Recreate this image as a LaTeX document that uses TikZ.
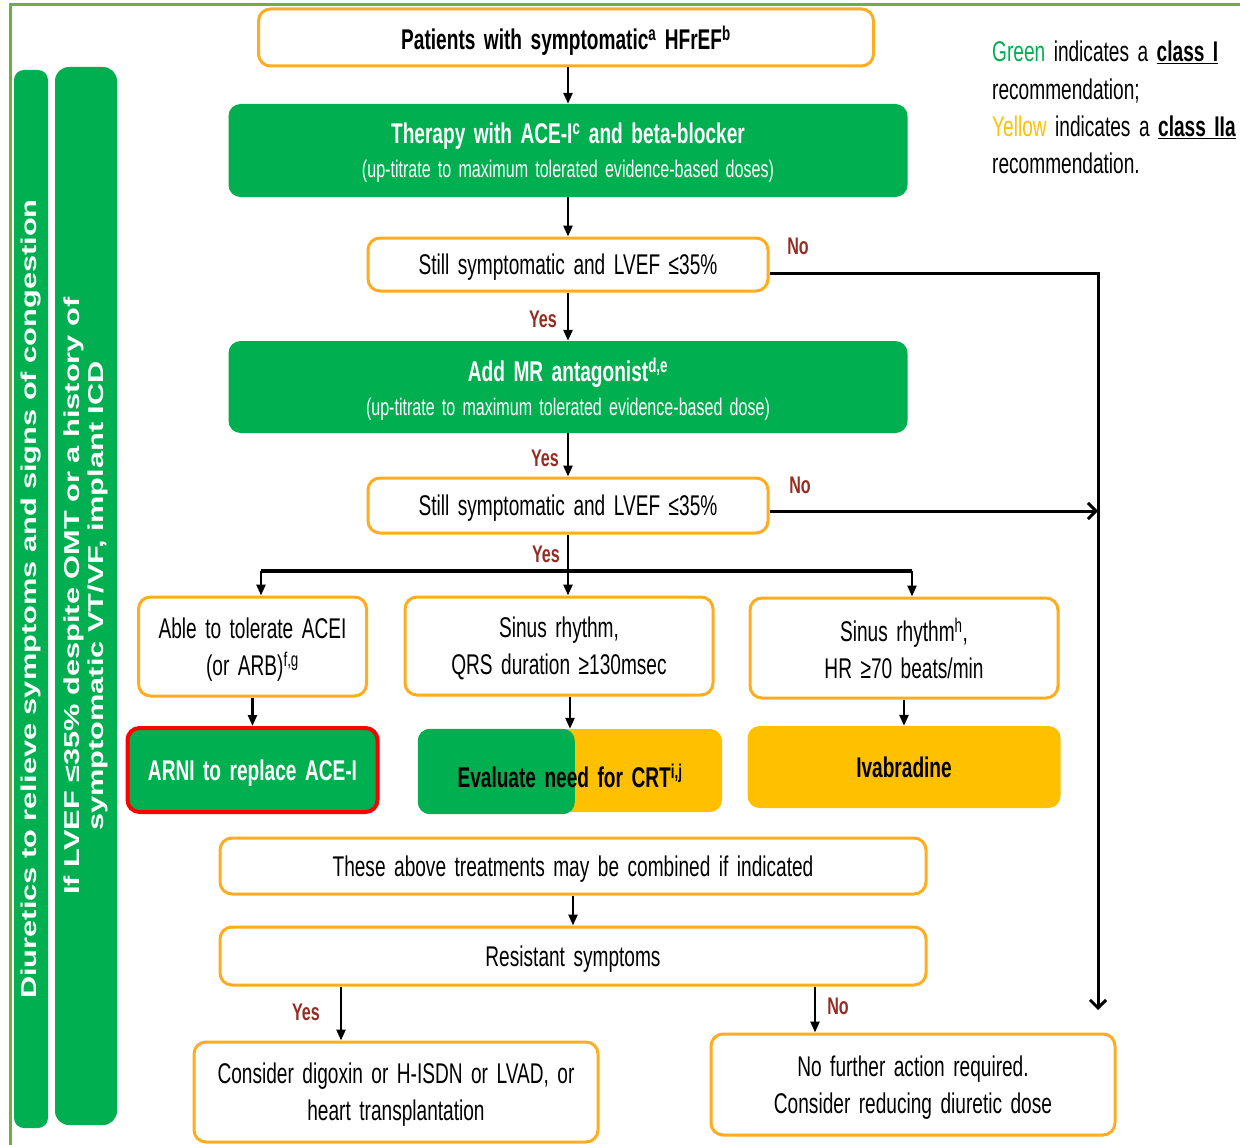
\documentclass[tikz,border=0pt]{standalone}
\usepackage{fontspec}
\setmainfont{Liberation Sans}[FakeStretch=0.67, WordSpace=1.6]
\newfontfamily\barfont{Liberation Sans}[FakeStretch=1.43]
\usetikzlibrary{arrows.meta,calc}
\definecolor{grn}{RGB}{0,176,80}
\definecolor{yel}{RGB}{255,192,0}
\definecolor{org}{RGB}{255,172,30}
\definecolor{frm}{RGB}{112,173,71}
\definecolor{lblc}{RGB}{150,45,35}
\definecolor{redb}{RGB}{255,0,0}
\begin{document}
\begin{tikzpicture}[x=1pt,y=-1pt,
  obox/.style={draw=org, line width=3pt, rounded corners=12pt, fill=white, align=center, inner sep=0pt, text depth=0pt, font=\fontsize{28.5}{37}\selectfont},
  gbox/.style={fill=grn, rounded corners=12pt, text=white, align=center, inner sep=0pt, text depth=0pt},
  ybox/.style={fill=yel, rounded corners=12pt, text=black, align=center, inner sep=0pt, font=\bfseries\fontsize{28.5}{37}\selectfont},
  lbl/.style={text=lblc, font=\bfseries\fontsize{24}{24}\selectfont, inner sep=0pt},
  leg/.style={anchor=base west, inner sep=0pt, font=\fontsize{28.5}{37}\selectfont},
  bar/.style={fill=grn, rotate=90, text=white, align=center, inner sep=0pt, font=\barfont\bfseries\fontsize{21.5}{24.5}\selectfont},
  arr/.style={line width=2.5pt, -{Triangle[length=11pt,width=9pt]}},
  barb/.style={line width=3pt, -{Straight Barb[length=8pt,width=16pt,line width=3pt]}}
]
\useasboundingbox (0,0) rectangle (1240,1145);
% frame
\draw[frm, line width=3pt] (10,1145) -- (10,5) -- (1240,5);
% side bars
\node[bar, minimum width=1058pt, minimum height=34pt, rounded corners=10pt] (bar1) at (31,599) {Diuretics to relieve symptoms and signs of congestion};
\node[bar, minimum width=1058pt, minimum height=62pt, rounded corners=14pt] (bar2) at (86,596) {If LVEF ≤35\% despite OMT or a history of\\symptomatic VT/VF, implant ICD};
% main column
\node[obox, minimum width=615pt, minimum height=57pt, font=\bfseries\fontsize{28.5}{37}\selectfont] (top) at (566,37.5) {Patients with symptomatic\textsuperscript{a} HFrEF\textsuperscript{b}};
\node[gbox, minimum width=679pt, minimum height=93pt, font=\fontsize{24}{34}\selectfont] (therapy) at (568,150.5) {{\bfseries\fontsize{28.5}{34}\selectfont Therapy with ACE-I\textsuperscript{c} and beta-blocker}\\(up-titrate to maximum tolerated evidence-based doses)};
\node[obox, minimum width=400pt, minimum height=53pt] (still1) at (568,264.5) {Still symptomatic and LVEF ≤35\%};
\node[gbox, minimum width=679pt, minimum height=92pt, font=\fontsize{24}{34}\selectfont] (mra) at (568,387) {{\bfseries\fontsize{28.5}{34}\selectfont Add MR antagonist\textsuperscript{d,e}}\\(up-titrate to maximum tolerated evidence-based dose)};
\node[obox, minimum width=400pt, minimum height=55pt] (still2) at (568,505.5) {Still symptomatic and LVEF ≤35\%};
% three options
\node[obox, minimum width=228pt, minimum height=99pt] (ableA) at (252.5,646.5) {Able to tolerate ACEI\\(or ARB)\textsuperscript{f,g}};
\node[obox, minimum width=308pt, minimum height=98pt] (sinusB) at (559,646) {Sinus rhythm,\\QRS duration ≥130msec};
\node[obox, minimum width=308pt, minimum height=100pt] (sinusC) at (904,648) {Sinus rhythm\textsuperscript{h},\\HR ≥70 beats/min};
\node[gbox, draw=redb, line width=4pt, minimum width=250pt, minimum height=84pt, font=\bfseries\fontsize{28.5}{37}\selectfont] (arni) at (252.5,770) {ARNI to replace ACE-I};
\node[ybox, minimum width=304pt, minimum height=83pt] (crt) at (570,770.5) {};
\fill[grn, rounded corners=12pt] (crt.north west) rectangle ($(crt.south west)+(157,2)$);
\node[inner sep=0pt, font=\bfseries\fontsize{28.5}{37}\selectfont] (crtt) at ($(crt.center)+(0,5)$) {Evaluate need for CRT\textsuperscript{i,j}};
\node[ybox, minimum width=313pt, minimum height=82pt] (ivab) at (904,767) {Ivabradine};
% lower part
\node[obox, minimum width=706pt, minimum height=56pt] (comb) at (573,866) {These above treatments may be combined if indicated};
\node[obox, minimum width=706pt, minimum height=58pt] (resist) at (573,956) {Resistant symptoms};
\node[obox, minimum width=404pt, minimum height=100pt] (consider) at (396,1092) {Consider digoxin or H-ISDN or LVAD, or\\heart transplantation};
\node[obox, minimum width=404pt, minimum height=101pt] (nofurther) at (913,1084.5) {No further action required.\\Consider reducing diuretic dose};
% legend
\node[leg] (leg1) at (992,62) {\textcolor{grn}{Green} indicates a \underline{\textbf{class I}}};
\node[leg] (leg2) at (992,100) {recommendation;};
\node[leg] (leg3) at (992,137) {\textcolor{yel}{Yellow} indicates a \underline{\textbf{class IIa}}};
\node[leg] (leg4) at (992,174) {recommendation.};
% connectors
\draw[arr] (therapy.north |- top.south) -- (therapy.north);
\draw[arr] (therapy.south) -- (still1.north);
\draw[arr] (still1.south) -- (mra.north);
\draw[arr] (mra.south) -- (still2.north);
\coordinate (split) at (568,571);
\coordinate (jA) at (261,571);
\coordinate (jC) at (912,571);
\draw[line width=2.5pt] (still2.south) -- (split);
\draw[line width=4pt] (jA) -- (jC);
\draw[arr] (jA) -- (jA |- ableA.north);
\draw[arr] (split) -- (split |- sinusB.north);
\draw[arr] (jC) -- (jC |- sinusC.north);
\draw[arr] (ableA.south) -- (arni.north);
\draw[arr] (crt.north |- sinusB.south) -- (crt.north);
\draw[arr] (ivab.north |- sinusC.south) -- (ivab.north);
\draw[arr] (comb.south) -- (resist.north);
\coordinate (ry) at (341,0);
\coordinate (rn) at (815,0);
\draw[arr] (ry |- resist.south) -- (ry |- consider.north);
\draw[arr] (rn |- resist.south) -- (rn |- nofurther.north);
\coordinate (r1) at (1098,273);
\coordinate (r2) at (1098,511);
\coordinate (rEnd) at (1098,1010);
\draw[barb] (still1.east |- r1) -- (r1) -- (rEnd);
\draw[barb] (still2.east |- r2) -- (r2);
% labels
\node[lbl] (no1) at (798,246) {No};
\node[lbl] (yes1) at (543,319) {Yes};
\node[lbl] (yes2) at (545,458) {Yes};
\node[lbl] (no2) at (800,485) {No};
\node[lbl] (yes3) at (546,554) {Yes};
\node[lbl] (yes4) at (306,1012) {Yes};
\node[lbl] (no3) at (838,1006) {No};
\end{tikzpicture}
\end{document}
